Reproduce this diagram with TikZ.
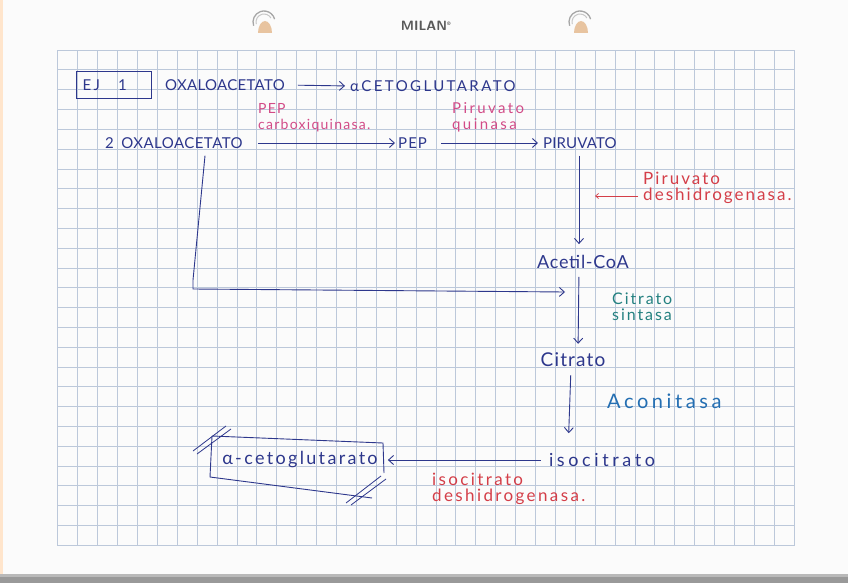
\documentclass[tikz,border=0pt]{standalone}
\usepackage{fontspec}
\setmainfont{Lato}
\usetikzlibrary{arrows.meta}

\definecolor{ink}{RGB}{45,55,140}
\definecolor{pinkink}{RGB}{210,75,135}
\definecolor{redink}{RGB}{212,62,72}
\definecolor{tealink}{RGB}{35,128,128}
\definecolor{blueink}{RGB}{35,110,178}
\definecolor{gridline}{RGB}{188,200,218}
\definecolor{paper}{RGB}{251,251,251}
\definecolor{hole}{RGB}{232,196,160}

\tikzset{
    hand/.style={inner sep=0pt, text=ink},
    note/.style={inner sep=0pt, align=left, anchor=west},
    lsp/.style 2 args={font=\fontsize{#1}{#1}\selectfont\addfontfeature{LetterSpace=#2}},
    lnote/.style 2 args={font=\fontsize{#1}{16}\selectfont\addfontfeature{LetterSpace=#2}},
    flow/.style={-{Straight Barb[length=5pt,width=9pt]}, ink, line width=0.9pt},
}

\begin{document}
\begin{tikzpicture}[x=1pt, y=-1pt]
    \useasboundingbox (0,0) rectangle (848,583);
    % page
    \fill[paper] (0,0) rectangle (848,583);
    \fill[orange!20] (0,0) rectangle (3,575);
    \fill[gray!55] (0,574) rectangle (848,583);
    \fill[gray!80] (0,577) rectangle (848,583);
    % rings and logo
    \foreach \rx in {264,580}{
        \fill[hole] (\rx-6,33) arc (180:360:7 and 12) -- cycle;
        \draw[gray!70, line width=1.3pt] (\rx,22) ++(160:11) arc (160:345:11);
        \draw[gray!45, line width=1pt] (\rx,22) ++(165:8) arc (165:330:8);
    }
    \node[font=\sffamily\bfseries\fontsize{13.5}{13.5}\selectfont, text=gray!70!black] (logo) at (426,26) {MILAN\textsuperscript{\tiny®}};
    % grid
    \draw[gridline, line width=0.6pt, xstep=19.9pt, ystep=19.8pt, shift={(57.7,50)}] (0,0) grid (736.3,495.2);
    \draw[gridline, line width=0.6pt] (57.7,50) rectangle (794,545);

    % EJ 1
    \node[hand, lsp={15}{10}, draw=ink, line width=0.8pt, minimum width=75pt, minimum height=27pt, text width=63pt, align=left] (ej) at (114,85) {E\,J\hspace{18pt}1};
    \node[hand, lsp={15}{2}, anchor=west] (oxa) at (165,85) {OXALOACETATO};
    \node[hand, lsp={15}{16}, anchor=west] (akg) at (350,86) {αCETOGLUTARATO};
    \draw[flow, shorten <=13pt, shorten >=5pt] (oxa.east) -- (akg.west);

    % second line
    \node[hand, lsp={15}{3}, anchor=west] (oxa2) at (105,143) {2\enspace OXALOACETATO};
    \node[hand, lsp={15}{7}, anchor=west] (pep) at (398,143) {PEP};
    \node[hand, lsp={15}{1}, anchor=west] (pir) at (543,143) {PIRUVATO};
    \draw[flow, shorten <=15pt, shorten >=3pt] (oxa2.east) -- (pep.west);
    \draw[flow, shorten <=14pt, shorten >=5pt] (pep.east) -- (pir.west);
    \node[note, lnote={14}{9}, text=pinkink, anchor=south west] (pepck) at (258,132) {PEP\\carboxiquinasa.};
    \node[note, lnote={15}{16}, text=pinkink, anchor=south west] (pk) at (452,132) {Piruvato\\quinasa};

    % pyruvate down
    \node[hand, lsp={18}{4}] (acoa) at (583,262) {Acetil-CoA};
    \draw[flow, shorten <=7pt, shorten >=11pt] (pir.south -| 579,0) -- (acoa.north -| 579,0);
    \node[note, lnote={17}{12}, text=redink] (pdh) at (643,188) {Piruvato\\deshidrogenasa.};
    \coordinate (pdhtip) at (595,196);
    \draw[-{Straight Barb[length=3pt,width=5pt]}, redink, line width=0.7pt] (pdh.west |- pdhtip) ++(-5,0) -- (pdhtip);

    % oxaloacetate joins
    \coordinate (merge) at (565,292);
    \draw[flow] (oxa2.south -| 205,0) ++(0,7) -- (193,280) -- (193,289) -- (merge);

    % citrate
    \node[hand, lsp={19}{6}] (cit) at (573,360) {Citrato};
    \draw[flow, shorten <=8pt, shorten >=9pt] (acoa.south -| 579,0) -- (cit.north -| 578,0);
    \node[note, lnote={16}{12}, text=tealink] (cs) at (612,307) {Citrato\\sintasa};

    % isocitrate
    \node[hand, lsp={18}{20}] (isocit) at (602,460) {isocitrato};
    \draw[flow, shorten <=8pt, shorten >=20pt] (cit.south -| 571,0) -- (isocit.north -| 568,0);
    \node[note, lsp={20}{18}, text=blueink] (acon) at (607,401) {Aconitasa};

    % alpha-ketoglutarate box
    \node[hand, lsp={18}{13}] (akg2) at (300,460) {α-cetoglutarato};
    \draw[ink, line width=0.9pt] (212,436) -- (383,443) -- (384,473);
    \draw[ink, line width=0.9pt] (212,436) -- (210,477) -- (372,498);
    \draw[ink, line width=0.8pt] (193,451) -- (226,426) (197,454) -- (231,429);
    \draw[ink, line width=0.8pt] (346,503) -- (381,476) (351,505) -- (386,479);
    \draw[flow, shorten <=8pt, shorten >=10pt] (isocit.west) -- (akg2.east);
    \node[note, lnote={17}{14}, text=redink] (idh) at (432,489) {isocitrato\\deshidrogenasa.};
\end{tikzpicture}
\end{document}
